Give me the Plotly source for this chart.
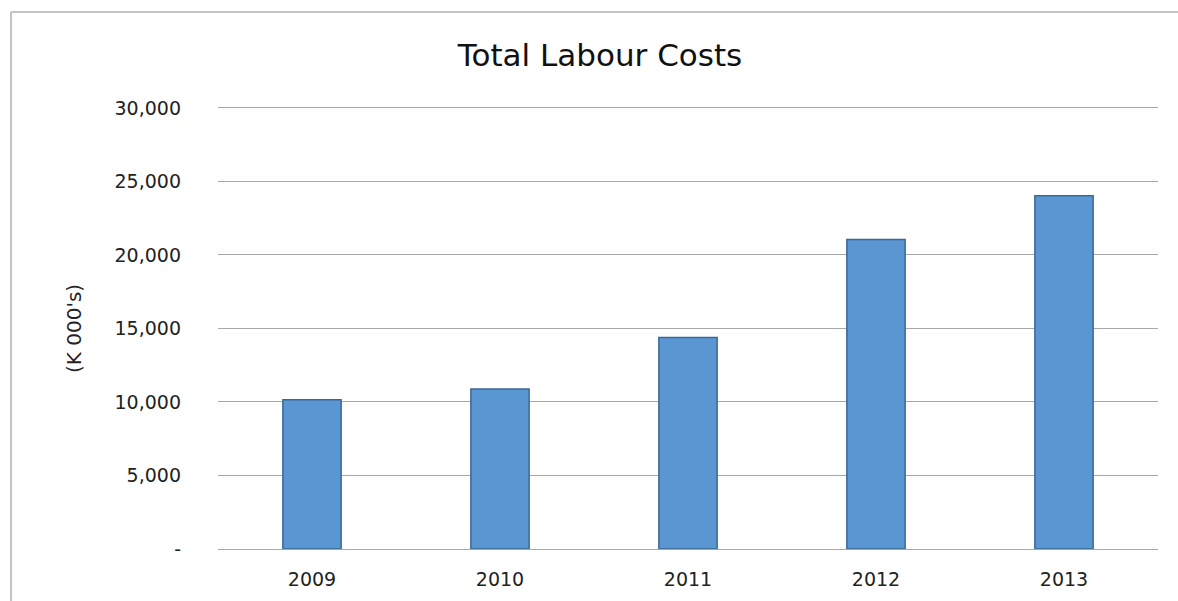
import plotly.graph_objects as go

years = ["2009", "2010", "2011", "2012", "2013"]
labour_costs = [10150, 10890, 14380, 21060, 24030]
y_tickvals = [0, 5000, 10000, 15000, 20000, 25000, 30000]
y_ticktext = ["-", "5,000", "10,000", "15,000", "20,000", "25,000", "30,000"]

W, H = 1178, 601
L, R, T, B = 218, 20, 105, 52
pw, ph = W - L - R, H - T - B

def px_x(x):
    return (x - L) / pw

def px_y(y):
    return (H - B - y) / ph

fig = go.Figure()
fig.add_trace(go.Bar(
    x=years, y=labour_costs,
    marker=dict(color="#5996d2", line=dict(color="#3c6894", width=1.5)),
    width=0.31,
))

fig.update_layout(
    width=W, height=H,
    margin=dict(l=L, r=R, t=T, b=B),
    paper_bgcolor="white", plot_bgcolor="white",
    showlegend=False,
    font=dict(family="DejaVu Sans", color="#222222"),
    title=dict(text="Total Labour Costs", xref="container", x=600 / W, xanchor="center",
               yref="container", y=1 - 55 / H, yanchor="middle",
               font=dict(size=31, color="#111111")),
    xaxis=dict(showgrid=False, showline=False, ticks="", zeroline=False,
               tickfont=dict(size=19, color="#222222"), ticklabelstandoff=17,
               range=[-0.5, 4.5]),
    yaxis=dict(range=[0, 30200], tickvals=y_tickvals, ticktext=y_ticktext,
               showgrid=True, gridcolor="#a8a8a8", gridwidth=1,
               zeroline=True, zerolinecolor="#a8a8a8", zerolinewidth=1,
               showline=False, ticks="", ticklabelstandoff=36,
               tickfont=dict(size=19, color="#222222")),
    annotations=[dict(text="(K 000's)", textangle=-90, xref="paper", yref="paper",
                      x=px_x(74), y=px_y(329), xanchor="center", yanchor="middle",
                      showarrow=False, font=dict(size=20, color="#222222"))],
    shapes=[
        dict(type="line", xref="paper", yref="paper",
             x0=px_x(11), x1=px_x(1178), y0=px_y(12), y1=px_y(12),
             line=dict(color="#c4c4c4", width=2)),
        dict(type="line", xref="paper", yref="paper",
             x0=px_x(11), x1=px_x(11), y0=px_y(12), y1=px_y(601),
             line=dict(color="#c4c4c4", width=2)),
    ],
)

fig.write_html("out.html")
